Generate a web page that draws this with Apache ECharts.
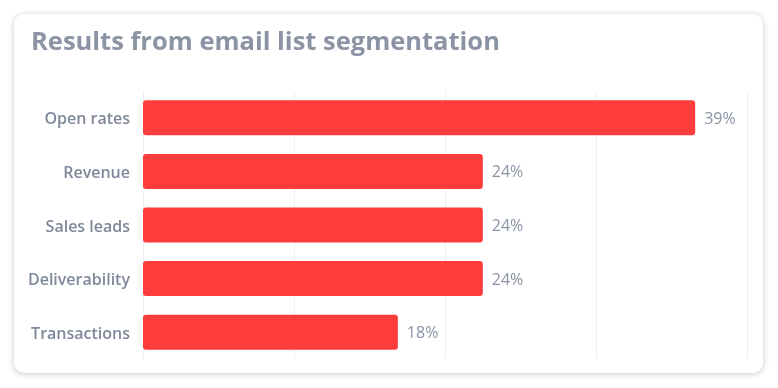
<!DOCTYPE html>
<html>
<head>
<meta charset="utf-8">
<script src="https://cdn.jsdelivr.net/npm/echarts@6/dist/echarts.min.js"></script>
<style>
  html, body { margin: 0; padding: 0; background: #ffffff; }
  #card { position: absolute; left: 14px; top: 14px; width: 749px; height: 359px;
          background: #fff; border-radius: 10px;
          box-shadow: 0 1px 6px rgba(0,0,0,0.22); }
  #chart { position: absolute; left: 0; top: 0; width: 778px; height: 388px; }
</style>
</head>
<body>
<div id="card"></div>
<div id="chart"></div>
<script>
const titleText = 'Results from email list segmentation';
const categories = ['Open rates', 'Revenue', 'Sales leads', 'Deliverability', 'Transactions'];
const values = [39, 24, 24, 24, 18];
const axisMax = 42.66;

const chart = echarts.init(document.getElementById('chart'), null, { renderer: 'canvas' });
chart.setOption({
  backgroundColor: 'transparent',
  animation: false,
  title: {
    text: titleText,
    left: 26, top: 25,
    textStyle: { fontFamily: 'Open Sans', fontWeight: 'bold', fontSize: 25.5, color: '#8b93a5' }
  },
  grid: { left: 143, right: 31, top: 91, bottom: 29, containLabel: false },
  xAxis: {
    type: 'value', min: 0, max: axisMax, interval: axisMax / 4,
    axisLabel: { show: false }, axisLine: { show: false }, axisTick: { show: false },
    splitLine: { show: true, lineStyle: { color: '#eeeff2', width: 1 } }
  },
  yAxis: {
    type: 'category', data: categories, inverse: true,
    axisLine: { show: false }, axisTick: { show: false },
    axisLabel: {
      margin: 13, formatter: '{a|{value}}',
      rich: { a: { padding: [4, 0, 0, 0], fontFamily: 'Open Sans', fontWeight: 600, fontSize: 16, color: '#7f889b' } }
    }
  },
  series: [{
    type: 'bar', data: values, barWidth: 35,
    itemStyle: { color: '#fc3d3b', borderRadius: 3 },
    label: { show: true, position: 'right', distance: 9, offset: [0, 1.5], formatter: '{c}%',
             fontFamily: 'Open Sans', fontSize: 16, color: '#8b93a5' }
  }]
});
</script>
</body>
</html>
